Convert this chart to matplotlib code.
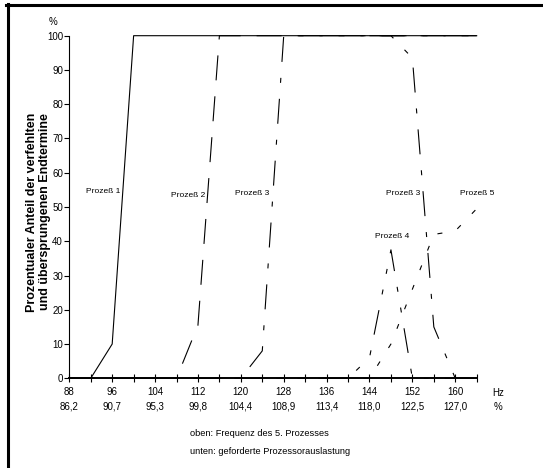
import matplotlib
matplotlib.use('Agg')
import matplotlib.pyplot as plt
from matplotlib.lines import Line2D

nan = float('nan')

# Frequenz des 5. Prozesses (Hz)
hz = [88, 92, 96, 100, 104, 108, 112, 116, 120, 124, 128, 132, 136,
      140, 144, 148, 152, 156, 160, 164]

# Anteil der verfehlten und uebersprungenen Endtermine (%)
p1 = [0, 0, 10, 100, 100, 100, 100, 100, 100, 100, 100, 100, 100,
      100, 100, 100, 100, 100, 100, 100]
p2 = [0, 0, 0, 0, 0, 0, 15.5, 100, 100, 100, 100, 100, 100,
      100, 100, 100, 100, 100, 100, 100]
p3 = [0, 0, 0, 0, 0, 0, 0, 0, 0, 8, 100, 100, 100,
      100, 100, 100, 100, 100, 100, 100]
p3b = [nan, nan, nan, nan, nan, nan, nan, nan, nan, nan, nan, nan, nan,
       nan, 100, 100, 93.5, 15, 0, 0]
p4 = [0, 0, 0, 0, 0, 0, 0, 0, 0, 0, 0, 0, 0,
      0, 6, 37.5, 0, 0, 0, 0]
p5 = [0, 0, 0, 0, 0, 0, 0, 0, 0, 0, 0, 0, 0,
      0, 0, 10, 26, 42, 43, 49.5]

hz_labels = [88, 96, 104, 112, 120, 128, 136, 144, 152, 160]
last_labels = ['86,2', '90,7', '95,3', '99,8', '104,4', '108,9', '113,4',
               '118,0', '122,5', '127,0']

labels = ['Prozeß 1', 'Prozeß 2', 'Prozeß 3', 'Prozeß 3', 'Prozeß 4', 'Prozeß 5']
lab_x = [94.3, 110.1, 122.1, 150.3, 148.3, 164.1]
lab_y = [54.5, 53.5, 54, 54, 41.5, 54]

plt.rcParams['font.family'] = ['Liberation Sans', 'DejaVu Sans']
plt.rcParams['lines.scale_dashes'] = False

fig = plt.figure(figsize=(5.43, 4.68), dpi=100)
ax = fig.add_axes([69.3/543, 89.7/468, 407.4/543, 342.6/468])

lw = 0.8
px = 72/100.0  # Pixel -> Punkt
dash = (25*px, 16*px)
dashdot = (25*px, 16*px, 5*px, 16*px)
dashdotdot = (25*px, 16*px, 5*px, 16*px, 5*px, 16*px)
dots = (5*px, 16*px)

ax.plot(hz, p5, color='black', lw=lw, dashes=dots, clip_on=False)
ax.plot(hz, p4, color='black', lw=lw, dashes=dashdotdot, clip_on=False)
ax.plot(hz, p3b, color='black', lw=lw, dashes=dashdot, clip_on=False)
ax.plot(hz, p3, color='black', lw=lw, dashes=dashdot, clip_on=False)
ax.plot(hz, p2, color='black', lw=lw, dashes=dash, clip_on=False)
ax.plot(hz, p1, color='black', lw=lw, clip_on=False)

ax.set_xlim(88, 164)
ax.set_ylim(0, 100)

for s in ['top', 'right']:
    ax.spines[s].set_visible(False)
ax.spines['left'].set_linewidth(0.8)
ax.spines['bottom'].set_linewidth(1.4)

ax.set_xticks(hz)
ax.set_xticklabels([str(h) if h in hz_labels else '' for h in hz])
ax.tick_params(axis='x', direction='inout', length=6, width=0.8,
               labelsize=7, pad=3)
ax.set_yticks(range(0, 101, 10))
ax.tick_params(axis='y', direction='out', length=3.5, width=0.8,
               labelsize=7, pad=1)

for h, t in zip(hz_labels, last_labels):
    ax.text(h, -0.083, t, transform=ax.get_xaxis_transform(),
            ha='center', va='center', fontsize=7)
ax.text(168, -0.044, 'Hz', transform=ax.get_xaxis_transform(),
        ha='center', va='center', fontsize=7)
ax.text(168, -0.083, '%', transform=ax.get_xaxis_transform(),
        ha='center', va='center', fontsize=7)
ax.text(85, 1.04, '%', transform=ax.get_xaxis_transform(),
        ha='center', va='center', fontsize=7)

for t, x, y in zip(labels, lab_x, lab_y):
    ax.text(x, y, t, ha='center', va='center', fontsize=6)

fig.text(38.5/543, 1 - 212/468,
         'Prozentualer Anteil der verfehlten\nund übersprungenen Endtermine',
         rotation=90, ha='center', va='center', fontsize=9,
         fontweight='bold', linespacing=1.1)

fig.text(190/543, 1 - 433/468, 'oben: Frequenz des 5. Prozesses',
         ha='left', va='center', fontsize=6.7)
fig.text(190/543, 1 - 451/468, 'unten: geforderte Prozessorauslastung',
         ha='left', va='center', fontsize=6.7)

# Rahmen oben und links
fig.add_artist(Line2D([6/543, 1], [1 - 5/468, 1 - 5/468], color='black',
                      lw=2.2, transform=fig.transFigure))
fig.add_artist(Line2D([7.5/543, 7.5/543], [0, 1 - 4/468], color='black',
                      lw=2.2, transform=fig.transFigure))

fig.savefig('out.png', dpi=100)
